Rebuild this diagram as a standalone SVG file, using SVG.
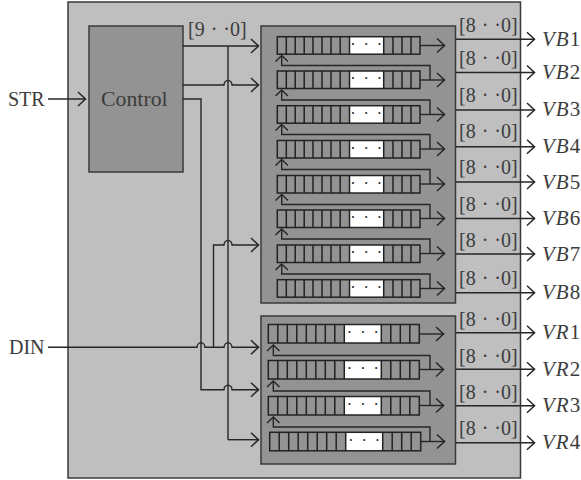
<svg xmlns="http://www.w3.org/2000/svg" xmlns:xlink="http://www.w3.org/1999/xlink" width="581" height="480" viewBox="0 0 581 480">
<style>
.box{stroke:#3a3a3a;stroke-width:1.5}
.outer{fill:#bfbfbf}
.dark{fill:#939393}
.cells{fill:none;stroke:#222;stroke-width:1.5}
.w{fill:#fff}
.line{fill:none;stroke:#262626;stroke-width:1.4}
.arr{marker-end:url(#a)}
text{font-family:"Liberation Serif","Times New Roman",serif;fill:#3c3c3c;font-size:20px}
.c{font-size:21.800px}
.dots{font-size:16px;word-spacing:4px;text-anchor:middle;fill:#222}
.l{font-size:20px;word-spacing:1px}
.v{font-size:21px}
.i{font-style:italic;letter-spacing:1px}
</style>
<defs>
<marker id="a" markerUnits="userSpaceOnUse" markerWidth="12" markerHeight="18" refX="9" refY="8" orient="auto" overflow="visible"><path d="M1,1L8.5,8L1,15" fill="none" stroke="#262626" stroke-width="1.5"/></marker>
<g id="rowT">
<rect class="w" x="349.5" y="0" width="34" height="17.5"/>
<rect class="cells" x="277.3" y="0" width="142.7" height="17.5"/>
<path class="cells" d="M286.3 0v17.5M295.2 0v17.5M304.2 0v17.5M313 0v17.5M322 0v17.5M331 0v17.5M340.2 0v17.5M349.5 0v17.5M383.7 0v17.5M393 0v17.5M402 0v17.5M411 0v17.5"/>
</g>
<g id="rowB">
<rect class="w" x="344.3" y="0" width="37" height="18.5"/>
<rect class="cells" x="268.3" y="0" width="151" height="18.5"/>
<path class="cells" d="M277.8 0v18.5M287.3 0v18.5M296.8 0v18.5M306.3 0v18.5M315.8 0v18.5M325.3 0v18.5M334.8 0v18.5M344.3 0v18.5M381.3 0v18.5M390.8 0v18.5M400.3 0v18.5M409.8 0v18.5"/>
</g>
</defs>

<g id="system"><rect class="box outer" x="68" y="2" width="452.5" height="476"/></g>
<g id="control"><rect class="box dark" x="89" y="26" width="94" height="146"/><text class="c" x="101" y="106">Control</text></g>
<g id="str-label"><text x="8" y="106">STR</text></g>
<g id="din-label"><text x="9" y="354">DIN</text></g>

<g id="vb-buffers">
<rect class="box dark" x="261" y="26" width="194.5" height="277"/>
<use xlink:href="#rowT" href="#rowT" y="36.7"/><text class="dots" x="366.2" y="49.5">· · ·</text>
<use xlink:href="#rowT" href="#rowT" y="71"/><text class="dots" x="366.2" y="84">· · ·</text>
<use xlink:href="#rowT" href="#rowT" y="105.7"/><text class="dots" x="366.2" y="118.5">· · ·</text>
<use xlink:href="#rowT" href="#rowT" y="140.5"/><text class="dots" x="366.2" y="153.5">· · ·</text>
<use xlink:href="#rowT" href="#rowT" y="175.5"/><text class="dots" x="366.2" y="188.5">· · ·</text>
<use xlink:href="#rowT" href="#rowT" y="210"/><text class="dots" x="366.2" y="223">· · ·</text>
<use xlink:href="#rowT" href="#rowT" y="245"/><text class="dots" x="366.2" y="258">· · ·</text>
<use xlink:href="#rowT" href="#rowT" y="279.7"/><text class="dots" x="366.2" y="292.5">· · ·</text>
</g>
<g id="vr-buffers">
<rect class="box dark" x="261" y="316" width="194.5" height="148"/>
<use xlink:href="#rowB" href="#rowB" y="324.5"/><text class="dots" x="362.8" y="338">· · ·</text>
<use xlink:href="#rowB" href="#rowB" y="360.5"/><text class="dots" x="362.8" y="374">· · ·</text>
<use xlink:href="#rowB" href="#rowB" y="396.5"/><text class="dots" x="362.8" y="410">· · ·</text>
<use xlink:href="#rowB" href="#rowB" x="1.4" y="432.3"/><text class="dots" x="364.2" y="446">· · ·</text>
</g>

<g id="connectors">
<path class="line arr" d="M48 99H86"/>
<path class="line arr" d="M183 46H259"/>
<path class="line" d="M228 46V439.7"/>
<path class="line arr" d="M183 85H224a4 4.500 0 0 1 8 0H259"/>
<path class="line arr" d="M183 99H201V389.7H224a4 4.500 0 0 1 8 0H259"/>
<path class="line arr" d="M48 347.300H197a4 4.500 0 0 1 8 0H224a4 4.500 0 0 1 8 0H259"/>
<path class="line arr" d="M213.500 347.300V245H224a4 4.500 0 0 1 8 0H259"/>
<path class="line arr" d="M228 439.700H259"/>

<path class="line arr" d="M420 45.500H445"/>
<path class="line arr" d="M420 80H445"/>
<path class="line arr" d="M420 114.500H445"/>
<path class="line arr" d="M420 149H445"/>
<path class="line arr" d="M420 184H445"/>
<path class="line arr" d="M420 218.500H445"/>
<path class="line arr" d="M420 253.500H445"/>
<path class="line arr" d="M420 288.500H445"/>
<path class="line arr" d="M419.300 334H444"/>
<path class="line arr" d="M419.300 369.500H444"/>
<path class="line arr" d="M419.300 405.500H444"/>
<path class="line arr" d="M420.700 441.500H445"/>

<path class="line" d="M430 80V65.500H281.700V56"/><path class="line" d="M275.500 61.500L281.700 55.500L288 61.500"/>
<path class="line" d="M430 114.500V100H281.700V90.500"/><path class="line" d="M275.500 96L281.700 90L288 96"/>
<path class="line" d="M430 149V134.500H281.700V125"/><path class="line" d="M275.500 130.500L281.700 124.500L288 130.500"/>
<path class="line" d="M430 184V169.500H281.700V160"/><path class="line" d="M275.500 165.500L281.700 159.500L288 165.500"/>
<path class="line" d="M430 218.500V204.500H281.700V195"/><path class="line" d="M275.500 200.500L281.700 194.500L288 200.500"/>
<path class="line" d="M430 253.500V239H281.700V229.500"/><path class="line" d="M275.500 235L281.700 229L288 235"/>
<path class="line" d="M430 288.500V274H281.700V264.500"/><path class="line" d="M275.500 270L281.700 264L288 270"/>
<path class="line" d="M430 369.500V355.500H273.300V345.500"/><path class="line" d="M267 351L273.300 345L279.500 351"/>
<path class="line" d="M430 405.500V391H273.300V381.500"/><path class="line" d="M267 387L273.300 381L279.500 387"/>
<path class="line" d="M430 441.500V427H273.300V417.500"/><path class="line" d="M267 423L273.300 417L279.500 423"/>

<path class="line arr" d="M455.500 39.300H535"/>
<path class="line arr" d="M455.500 72.500H535"/>
<path class="line arr" d="M455.500 110H535"/>
<path class="line arr" d="M455.500 146.700H535"/>
<path class="line arr" d="M455.500 182H535"/>
<path class="line arr" d="M455.500 218.500H535"/>
<path class="line arr" d="M455.500 254H535"/>
<path class="line arr" d="M455.500 292.700H535"/>
<path class="line arr" d="M455.500 332.700H535"/>
<path class="line arr" d="M455.500 369.300H535"/>
<path class="line arr" d="M455.500 405.700H535"/>
<path class="line arr" d="M455.500 442.700H535"/>
</g>

<g id="bus-labels">
<text class="l" x="188" y="36">[9 · ·0]</text>
<text class="l" x="459" y="31.500">[8 · ·0]</text>
<text class="l" x="459" y="65">[8 · ·0]</text>
<text class="l" x="459" y="101.500">[8 · ·0]</text>
<text class="l" x="459" y="138">[8 · ·0]</text>
<text class="l" x="459" y="174">[8 · ·0]</text>
<text class="l" x="459" y="210.500">[8 · ·0]</text>
<text class="l" x="459" y="247">[8 · ·0]</text>
<text class="l" x="459" y="285">[8 · ·0]</text>
<text class="l" x="459" y="326">[8 · ·0]</text>
<text class="l" x="459" y="362.500">[8 · ·0]</text>
<text class="l" x="459" y="399">[8 · ·0]</text>
<text class="l" x="459" y="435">[8 · ·0]</text>
</g>
<g id="outputs">
<text class="v" x="542" y="45.500"><tspan class="i">VB</tspan>1</text>
<text class="v" x="542" y="79"><tspan class="i">VB</tspan>2</text>
<text class="v" x="542" y="116"><tspan class="i">VB</tspan>3</text>
<text class="v" x="542" y="153"><tspan class="i">VB</tspan>4</text>
<text class="v" x="542" y="188.500"><tspan class="i">VB</tspan>5</text>
<text class="v" x="542" y="225"><tspan class="i">VB</tspan>6</text>
<text class="v" x="542" y="260.500"><tspan class="i">VB</tspan>7</text>
<text class="v" x="542" y="299"><tspan class="i">VB</tspan>8</text>
<text class="v" x="542" y="339"><tspan class="i">VR</tspan>1</text>
<text class="v" x="542" y="375.500"><tspan class="i">VR</tspan>2</text>
<text class="v" x="542" y="412"><tspan class="i">VR</tspan>3</text>
<text class="v" x="542" y="449"><tspan class="i">VR</tspan>4</text>
</g>
</svg>
